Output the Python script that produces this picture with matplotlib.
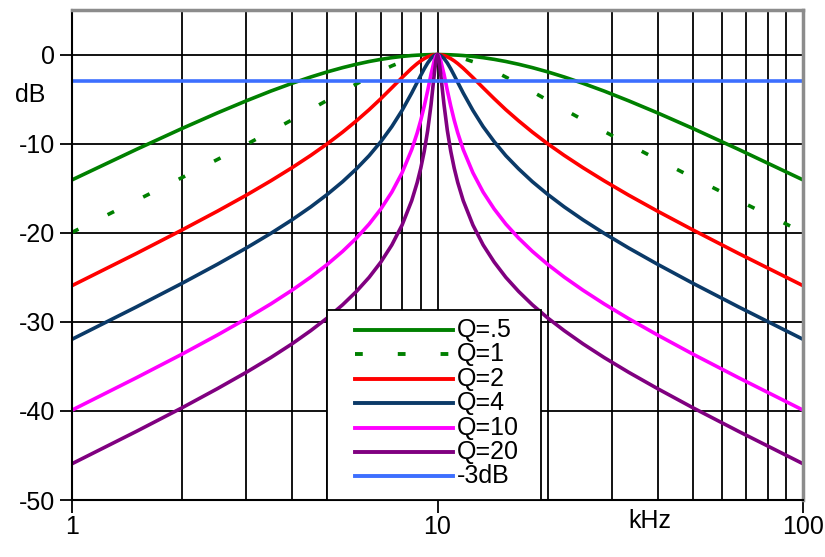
import matplotlib
matplotlib.use('Agg')
import matplotlib.pyplot as plt
from matplotlib.lines import Line2D
from matplotlib.patches import Rectangle
from matplotlib.ticker import FixedLocator, NullFormatter

plt.rcParams['font.family'] = ['Liberation Sans', 'DejaVu Sans']

# frequency points (kHz)
freq = [1, 1.5, 2, 2.5, 3, 3.5, 4, 4.5, 5, 5.5, 6, 6.5, 7, 7.5, 8, 8.5, 8.8, 9,
        9.2, 9.4, 9.6, 9.8, 9.9, 10,
        10.1, 10.2, 10.42, 10.64, 10.87, 11.11, 11.36, 11.76, 12.5, 13.33, 14.29,
        15.38, 16.67, 18.18, 20, 22.22, 25, 28.57, 33.33, 40, 50, 66.67, 100]

q05_db = [-14.07, -10.65, -8.30, -6.55, -5.19, -4.10, -3.23, -2.52, -1.94, -1.47, -1.09, -0.78,
          -0.54, -0.35, -0.21, -0.11, -0.07, -0.05, -0.03, -0.02, -0.01, 0.0, 0.0, 0.0,
          0.0, 0.0, -0.01, -0.02, -0.03, -0.05, -0.07, -0.11, -0.21, -0.35, -0.54, -0.78,
          -1.09, -1.47, -1.94, -2.52, -3.23, -4.10, -5.19, -6.55, -8.30, -10.65, -14.07]
q1_db = [-19.96, -16.38, -13.81, -11.78, -10.09, -8.62, -7.33, -6.17, -5.12, -4.16, -3.30, -2.53,
         -1.85, -1.27, -0.80, -0.44, -0.28, -0.19, -0.12, -0.07, -0.03, -0.01, 0.0, 0.0,
         0.0, -0.01, -0.03, -0.07, -0.12, -0.19, -0.28, -0.44, -0.80, -1.27, -1.85, -2.53,
         -3.30, -4.16, -5.12, -6.17, -7.33, -8.62, -10.09, -11.78, -13.81, -16.38, -19.96]
q2_db = [-25.94, -22.33, -19.69, -17.58, -15.78, -14.17, -12.70, -11.32, -10.00, -8.71, -7.44, -6.19,
         -4.95, -3.73, -2.58, -1.54, -1.01, -0.71, -0.46, -0.26, -0.11, -0.03, -0.01, 0.0,
         -0.01, -0.03, -0.11, -0.26, -0.46, -0.71, -1.01, -1.54, -2.58, -3.73, -4.95, -6.19,
         -7.44, -8.71, -10.00, -11.32, -12.70, -14.17, -15.78, -17.58, -19.69, -22.33, -25.94]
q4_db = [-31.96, -28.33, -25.68, -23.54, -21.71, -20.07, -18.55, -17.10, -15.68, -14.27, -12.83, -11.35,
         -9.77, -8.09, -6.27, -4.32, -3.12, -2.34, -1.60, -0.95, -0.44, -0.11, -0.03, 0.0,
         -0.03, -0.11, -0.44, -0.95, -1.60, -2.34, -3.12, -4.32, -6.27, -8.09, -9.77, -11.35,
         -12.83, -14.27, -15.68, -17.10, -18.55, -20.07, -21.71, -23.54, -25.68, -28.33, -31.96]
q10_db = [-39.91, -36.28, -33.63, -31.48, -29.64, -27.99, -26.45, -24.98, -23.54, -22.09, -20.60, -19.03,
          -17.33, -15.44, -13.27, -10.67, -8.79, -7.37, -5.78, -4.04, -2.22, -0.66, -0.17, 0.0,
          -0.17, -0.66, -2.22, -4.04, -5.78, -7.37, -8.79, -10.67, -13.27, -15.44, -17.33, -19.03,
          -20.60, -22.09, -23.54, -24.98, -26.45, -27.99, -29.64, -31.48, -33.63, -36.28, -39.91]
q20_db = [-45.93, -42.30, -39.65, -37.50, -35.66, -34.01, -32.47, -30.99, -29.55, -28.09, -26.59, -25.01,
          -23.29, -21.37, -19.14, -16.40, -14.36, -12.75, -10.85, -8.53, -5.64, -2.18, -0.65, 0.0,
          -0.65, -2.18, -5.64, -8.53, -10.85, -12.75, -14.36, -16.40, -19.14, -21.37, -23.29, -25.01,
          -26.59, -28.09, -29.55, -30.99, -32.47, -34.01, -35.66, -37.50, -39.65, -42.30, -45.93]

ref_freq = [1, 100]
ref_db = [-3, -3]

labels = ['Q=.5', 'Q=1', 'Q=2', 'Q=4', 'Q=10', 'Q=20', '-3dB']
colors = ['#008000', '#008000', '#FF0000', '#0B3A68', '#FF00FF', '#800080', '#3D6FFF']
styles = ['-', (0, (2, 9)), '-', '-', '-', '-', '-']
curves = [q05_db, q1_db, q2_db, q4_db, q10_db, q20_db]

fig = plt.figure(figsize=(8.25, 5.57), dpi=100)
ax = fig.add_axes([72 / 825, 1 - 500 / 557, 731 / 825, 490 / 557])

for vals, color, ls in zip(curves, colors, styles):
    ax.plot(freq, vals, color=color, linestyle=ls, linewidth=2.6)
ax.plot(ref_freq, ref_db, color=colors[-1], linewidth=2.6)

ax.set_xscale('log')
ax.set_xlim(1, 100)
ax.set_ylim(-50, 5)

ax.xaxis.set_major_locator(FixedLocator([1, 10, 100]))
ax.xaxis.set_major_formatter(plt.FuncFormatter(lambda v, p: f'{v:g}'))
ax.xaxis.set_minor_locator(FixedLocator([2, 3, 4, 5, 6, 7, 8, 9,
                                         20, 30, 40, 50, 60, 70, 80, 90]))
ax.xaxis.set_minor_formatter(NullFormatter())
ax.set_yticks([0, -10, -20, -30, -40, -50])
ax.set_yticklabels(['0', '-10', '-20', '-30', '-40', '-50'])

ax.grid(True, which='major', color='black', linewidth=1.3)
ax.grid(True, which='minor', axis='x', color='black', linewidth=1.3)
ax.set_axisbelow(True)

ax.tick_params(axis='both', which='major', direction='out', length=9, width=1.3,
               color='black', labelsize=18)
ax.tick_params(axis='y', which='major', pad=3)
ax.tick_params(axis='x', which='major', pad=2)
ax.tick_params(axis='x', which='minor', length=0)

for side in ['left', 'bottom']:
    ax.spines[side].set_color('black')
    ax.spines[side].set_linewidth(1.5)
for side in ['top', 'right']:
    ax.spines[side].set_color('#8C8C8C')
    ax.spines[side].set_linewidth(2.5)

ax.text(-0.057, 0.827, 'dB', transform=ax.transAxes, fontsize=18,
        ha='center', va='center')
ax.text(38, -0.042, 'kHz', transform=ax.get_xaxis_transform(), fontsize=18,
        ha='center', va='center')

# legend box drawn by hand to match the spacing of the original
W, H = 825, 557
fig.add_artist(Rectangle((327 / W, 1 - 500 / H), 214 / W, 190 / H,
                         transform=fig.transFigure, facecolor='white',
                         edgecolor='black', linewidth=1.3, zorder=5))
for i, (lab, color, ls) in enumerate(zip(labels, colors, styles)):
    yy = 1 - (330 + 24.4 * i) / H
    fig.add_artist(Line2D([355 / W, 453 / W], [yy, yy], transform=fig.transFigure,
                          color=color, linestyle=ls, linewidth=2.8, zorder=6))
    fig.text(457 / W, yy, lab, fontsize=18, ha='left', va='center', zorder=7)

fig.savefig('out.png', dpi=100)
